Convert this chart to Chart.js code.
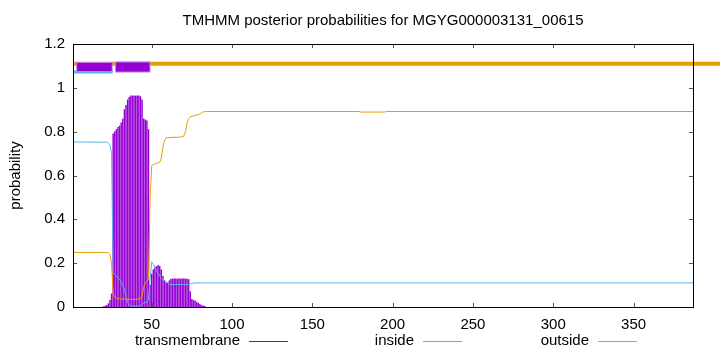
<!DOCTYPE html>
<html>
<head>
<meta charset="utf-8">
<script src="https://cdn.jsdelivr.net/npm/chart.js@4/dist/chart.umd.min.js"></script>
<style>
html,body{margin:0;padding:0;background:#fff;}
#wrap{width:720px;height:352px;position:relative;}
</style>
</head>
<body>
<div id="wrap"><canvas id="c" width="720" height="352"></canvas></div>
<script>
// ---------- data ----------
const titleText = 'TMHMM posterior probabilities for MGYG000003131_00615';
const seqLength = 387;
const xTicks = [50, 100, 150, 200, 250, 300, 350];
const yTicks = [0, 0.2, 0.4, 0.6, 0.8, 1, 1.2];
const yTickLabels = ['0', '0.2', '0.4', '0.6', '0.8', '1', '1.2'];
const legendNames = ['transmembrane', 'inside', 'outside'];

// transmembrane posterior (impulses), per residue
const tmPos = [20,21,22,23,24,25,26,27,28,29,30,31,32,33,34,35,36,37,38,39,40,41,42,43,44,45,46,47,48,
               49,50,51,52,53,54,55,56,57,58,59,60,61,62,63,64,65,66,67,68,69,70,71,72,73,74,75,76,77,78,79,80,81,82,83];
const tmProb = [0.002,0.004,0.008,0.015,0.03,0.06,0.79,0.80,0.81,0.82,0.826,0.84,0.858,0.90,0.92,0.945,0.957,0.963,0.963,0.963,0.963,0.963,0.963,0.96,0.945,0.858,0.854,0.85,0.81,
                0.10,0.15,0.17,0.18,0.185,0.19,0.185,0.17,0.14,0.12,0.11,0.11,0.12,0.127,0.128,0.128,0.128,0.128,0.128,0.128,0.128,0.128,0.128,0.127,0.125,0.07,0.035,0.03,0.028,0.022,0.018,0.012,0.008,0.005,0.003];

// inside posterior (line)
const inPos  = [1,22,23,24,25,26,27,29,31,33,34,35,36,37,40,43,44,45,46,47,48,49,50,51,52,53,54,55,56,57,58,59,60,61,73,74,75,76,78,387];
const inProb = [0.753,0.752,0.748,0.74,0.70,0.155,0.15,0.132,0.117,0.08,0.05,0.022,0.008,0.004,0.003,0.005,0.012,0.018,0.02,0.022,0.035,0.12,0.206,0.195,0.18,0.167,0.155,0.142,0.13,0.125,0.12,0.115,0.11,0.103,0.102,0.104,0.107,0.109,0.11,0.11];

// outside posterior (line)
const outPos  = [1,22,23,24,25,26,27,28,30,35,40,43,44,45,46,47,48,49,50,51,53,55,56,57,58,59,62,68,70,71,72,73,74,76,78,80,81,82,84,179,180,195,196,387];
const outProb = [0.249,0.249,0.248,0.24,0.2,0.06,0.045,0.04,0.037,0.035,0.035,0.037,0.05,0.09,0.11,0.12,0.125,0.5,0.645,0.65,0.655,0.66,0.68,0.73,0.76,0.772,0.774,0.775,0.78,0.80,0.84,0.86,0.868,0.872,0.876,0.88,0.886,0.89,0.892,0.892,0.8895,0.8895,0.892,0.892];

// predicted topology (top annotation)
const insideSegments  = [[1, 25.7]];
const outsideSegments = [[1, 405]];
const tmSegments      = [[3, 25.7], [27.2, 49.2]];
const insideLevel = 1.072, outsideLevel = 1.11, tmLevel = 1.095;

// ---------- styles ----------
const C_TM = '#9400d3', C_TM_LIGHT = '#c27ae9', C_IN = '#56b4e9', C_OUT = '#e69f00';
const FONT = '"Liberation Sans", Arial, sans-serif';
const FS = 15;

function pts(xs, ys) { return xs.map((x, i) => ({ x: x, y: ys[i] })); }
function seg(s, y) { return [{ x: s[0], y: y }, { x: s[1], y: y }]; }

const datasets = [];
datasets.push({ type: 'line', data: pts(inPos, inProb), borderColor: C_IN, borderWidth: 1, pointRadius: 0, tension: 0, fill: false, order: 2 });
datasets.push({ type: 'line', data: pts(outPos, outProb), borderColor: C_OUT, borderWidth: 1, pointRadius: 0, tension: 0, fill: false, order: 1 });
datasets.push({ type: 'bar', data: pts(tmPos, tmProb), backgroundColor: C_TM, borderWidth: 0, barThickness: 0.8, order: 20 });
outsideSegments.forEach(s => datasets.push({ type: 'line', data: seg(s, outsideLevel), borderColor: C_OUT, borderWidth: 4, pointRadius: 0, borderCapStyle: 'butt', fill: false, order: 12, clip: { left: 0, top: 0, bottom: 0, right: 40 } }));
insideSegments.forEach(s => datasets.push({ type: 'line', data: seg(s, insideLevel), borderColor: C_IN, borderWidth: 3, pointRadius: 0, borderCapStyle: 'butt', fill: false, order: 11 }));
tmSegments.forEach((s, i) => {
  datasets.push({ type: 'line', data: seg(s, tmLevel), borderColor: C_TM_LIGHT, borderWidth: i === 0 ? 10 : 11, pointRadius: 0, borderCapStyle: 'butt', fill: false, order: 6 });
  datasets.push({ type: 'line', data: seg([s[0] + 0.6, s[1] - 0.6], tmLevel), borderColor: C_TM, borderWidth: i === 0 ? 8 : 9, pointRadius: 0, borderCapStyle: 'butt', fill: false, order: 5 });
});

const decor = {
  id: 'decor',
  afterDraw(chart) {
    const ctx = chart.ctx, a = chart.chartArea;
    const xs = chart.scales.x, ys = chart.scales.y;
    ctx.save();
    ctx.lineWidth = 1;
    // ticks (mirrored, inward)
    ctx.strokeStyle = '#555';
    ctx.beginPath();
    yTicks.forEach(v => {
      const y = Math.round(ys.getPixelForValue(v)) + 0.5;
      ctx.moveTo(a.left, y); ctx.lineTo(a.left + 4, y);
      ctx.moveTo(a.right, y); ctx.lineTo(a.right - 4, y);
    });
    xTicks.forEach(v => {
      const x = Math.round(xs.getPixelForValue(v)) + 0.5;
      ctx.moveTo(x, a.bottom); ctx.lineTo(x, a.bottom - 4);
      ctx.moveTo(x, a.top); ctx.lineTo(x, a.top + 4);
    });
    ctx.stroke();
    // border
    ctx.strokeStyle = '#000';
    ctx.strokeRect(Math.round(a.left) + 0.5, Math.round(a.top) + 0.5, Math.round(a.right - a.left), Math.round(a.bottom - a.top));
    // title
    ctx.fillStyle = '#000';
    ctx.font = FS + 'px ' + FONT;
    ctx.textAlign = 'center';
    ctx.textBaseline = 'middle';
    ctx.fillText(titleText, (a.left + a.right) / 2, 21);
    // y label
    ctx.save();
    ctx.translate(16, (a.top + a.bottom) / 2);
    ctx.rotate(-Math.PI / 2);
    ctx.fillText('probability', 0, 0);
    ctx.restore();
    // legend
    const items = [
      { name: legendNames[0], color: C_TM, end: 240, l0: 249, l1: 288 },
      { name: legendNames[1], color: C_IN, end: 414, l0: 423, l1: 462 },
      { name: legendNames[2], color: C_OUT, end: 589, l0: 598, l1: 637 }
    ];
    const ly = 341;
    items.forEach(it => {
      ctx.fillStyle = '#000';
      ctx.textAlign = 'right';
      ctx.fillText(it.name, it.end, ly);
    });
    items.forEach(it => {
      ctx.beginPath();
      ctx.strokeStyle = it.color;
      ctx.lineWidth = 1.2;
      ctx.moveTo(it.l0, ly + 0.5); ctx.lineTo(it.l1, ly + 0.5);
      ctx.stroke();
    });
    ctx.restore();
  }
};

new Chart(document.getElementById('c'), {
  type: 'line',
  data: { datasets: datasets },
  options: {
    responsive: false,
    animation: false,
    events: [],
    layout: { padding: { left: 0, right: 27, top: 44, bottom: 0 } },
    plugins: { legend: { display: false }, tooltip: { enabled: false }, title: { display: false } },
    scales: {
      x: {
        type: 'linear', min: 1, max: seqLength, offset: false,
        grid: { display: false, drawTicks: false, offset: false },
        border: { display: false },
        afterFit: s => { s.height = 45; },
        afterBuildTicks: s => { s.ticks = xTicks.map(v => ({ value: v })); },
        ticks: { padding: 9, color: '#000', font: { family: FONT, size: FS }, maxRotation: 0, autoSkip: false }
      },
      y: {
        type: 'linear', min: 0, max: 1.2,
        grid: { display: false, drawTicks: false },
        border: { display: false },
        afterFit: s => { s.width = 73; },
        afterBuildTicks: s => { s.ticks = yTicks.map(v => ({ value: v })); },
        ticks: { padding: 8, color: '#000', font: { family: FONT, size: FS }, autoSkip: false,
                 callback: (v) => { const i = yTicks.indexOf(v); return i >= 0 ? yTickLabels[i] : ''; } }
      }
    }
  },
  plugins: [decor]
});
</script>
</body>
</html>
